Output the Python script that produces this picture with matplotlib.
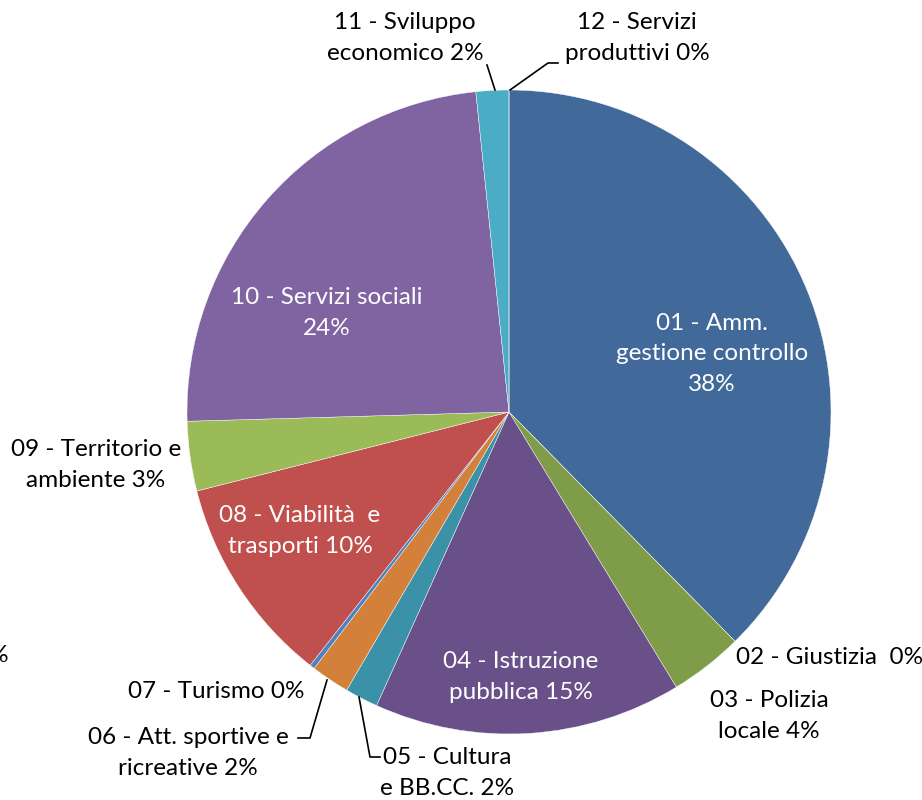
import matplotlib.pyplot as plt

# slice shares (clockwise from 12 o'clock)
values = [37.75, 0, 3.7, 15.5, 1.67, 1.94, 0.25, 10.5, 3.5, 23.9, 1.65, 0]
labels = ['01 - Amm.\ngestione controllo\n38%', '02 - Giustizia  0%', '03 - Polizia\nlocale 4%',
          '04 - Istruzione\npubblica 15%', '05 - Cultura\ne BB.CC. 2%', '06 - Att. sportive e\nricreative 2%',
          '07 - Turismo 0%', '08 - Viabilità  e\ntrasporti 10%', '09 - Territorio e\nambiente 3%',
          '10 - Servizi sociali\n24%', '11 - Sviluppo\neconomico 2%', '12 - Servizi\nproduttivi 0%']
colors = ['#416a9b', '#9d3e3b', '#7f9c48', '#6a5088', '#3b91a7', '#d3803a',
          '#4f81bd', '#c0504d', '#9bbb59', '#8064a2', '#4bacc6', '#f79646']

# label centres in pixel coords (x, y from top), text colour
label_pos = [(712, 354), (830, 658), (769, 716), (521, 677), (447, 773), (188, 753),
             (216, 692), (300, 531), (96, 465), (327, 313), (405, 38), (637, 38)]
inside = [True, False, False, True, False, False, False, True, False, True, False, False]

# leader lines in pixel coords
leaders = {
    10: [(487, 65), (495, 90)],
    11: [(558, 63), (548, 63), (510, 90)],
    5: [(327, 680), (310, 738), (298, 738)],
    4: [(359, 697), (370, 757), (380, 757)],
}

W, H = 922, 800
fig = plt.figure(figsize=(W / 100, H / 100), dpi=100)
ax = fig.add_axes([0, 0, 1, 1])

ax.pie(values, colors=colors, startangle=90, counterclock=False,
       center=(509, H - 412), radius=322, frame=True,
       wedgeprops=dict(edgecolor='white', linewidth=0.3))
ax.set_xlim(0, W)
ax.set_ylim(0, H)
ax.set_aspect('equal')
ax.axis('off')

font = 'Lato'
for lab, (x, y), ins in zip(labels, label_pos, inside):
    ax.text(x, H - y, lab, ha='center', va='center', fontsize=17.5, family=font,
            color='white' if ins else 'black', linespacing=1.55)

for pts in leaders.values():
    ax.plot([p[0] for p in pts], [H - p[1] for p in pts], color='black', lw=1.2)

# label cut off at the left edge
ax.text(9, H - 655, '0%', ha='right', va='center', fontsize=17.5, family=font)

fig.savefig('out.png', dpi=100)
